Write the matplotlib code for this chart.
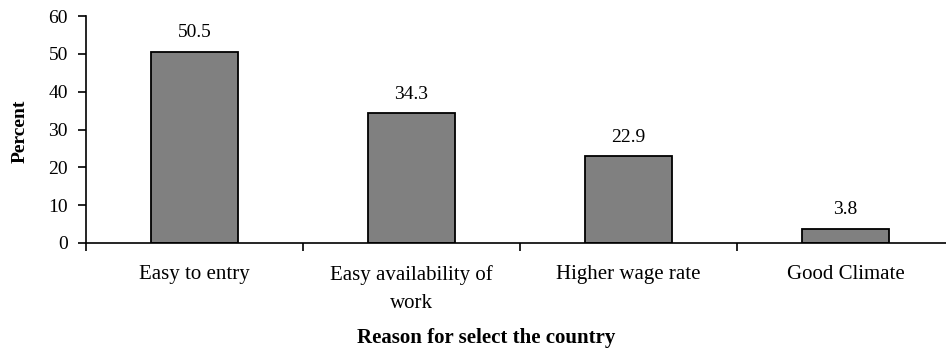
import matplotlib
matplotlib.use("Agg")
import matplotlib.pyplot as plt

plt.rcParams['font.family'] = ['Liberation Serif', 'DejaVu Serif']

reasons = ['Easy to entry', 'Easy availability of\nwork', 'Higher wage rate', 'Good Climate']
percent = [50.5, 34.3, 22.9, 3.8]

fig = plt.figure(figsize=(9.46, 3.51), dpi=100)
ax = fig.add_axes([0.0909, 0.3077, 0.9176, 0.6467])

pos = list(range(len(reasons)))
ax.bar(pos, percent, width=0.4, color='#808080', edgecolor='black', linewidth=1.3)

for x, v in zip(pos, percent):
    ax.text(x, v + 2.8, f'{v:.1f}', ha='center', va='bottom', fontsize=14)

ax.set_xlim(-0.5, len(reasons) - 0.5)
ax.set_ylim(0, 60)
ax.set_yticks(range(0, 61, 10))

# boundary ticks between categories, labels sit at the centres
ax.set_xticks([i - 0.5 for i in range(len(reasons) + 1)])
ax.set_xticklabels([])
ax.set_xticks(pos, minor=True)
ax.set_xticklabels(reasons, minor=True, fontsize=15, linespacing=1.6)
ax.tick_params(axis='x', which='minor', length=0, pad=16)
ax.tick_params(axis='x', which='major', length=6, width=1.2)
ax.tick_params(axis='y', length=6, width=1.2, labelsize=14, pad=7)

for s in ['top', 'right']:
    ax.spines[s].set_visible(False)
for s in ['left', 'bottom']:
    ax.spines[s].set_linewidth(1.2)

ax.set_ylabel('Percent', fontsize=14, fontweight='bold', va='center')
ax.yaxis.set_label_coords(-0.0755, 0.49)
ax.set_xlabel('Reason for select the country', fontsize=15, fontweight='bold', va='center')
ax.xaxis.set_label_coords(0.461, -0.42)

fig.savefig('out.png', dpi=100)
